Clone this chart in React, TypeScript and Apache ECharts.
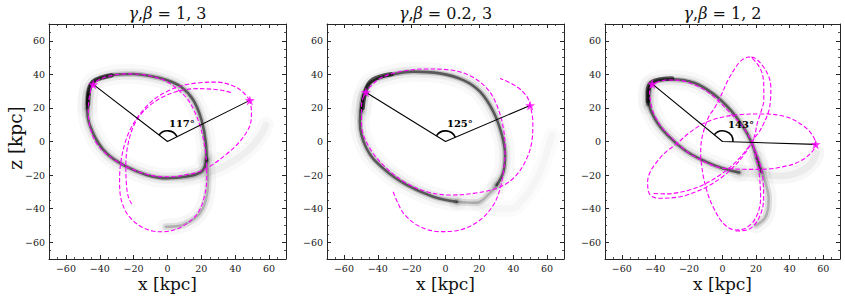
import React, { useEffect, useRef } from 'react';
import * as echarts from 'echarts';

// ---------- shared axis values ----------
const TICK_VALUES = [-60, -40, -20, 0, 20, 40, 60];
const AXIS_MIN = -70;
const AXIS_MAX = 70;
const MINOR_STEP = 5;
const ARC_RADIUS = 6.3;

// ---------- panel 1 : gamma,beta = 1, 3 ----------
const p1Title = ['1', '3'];
const p1Angle = '117°';
const p1AngleLabelAt = [8.5, 11];
const p1Stars = [[-43.9, 34], [48.6, 24.5]];
const p1OrbitLoop = [
  [48.6, 24.5], [44.5, 29.5], [38.9, 33.1], [29, 35.4], [19.1, 35], [9.3, 33.5], [0, 30], [-8, 25], [-15, 18],
  [-20.5, 10], [-24.5, 1], [-27.2, -10], [-28.3, -22], [-28, -31], [-25.5, -40], [-21.5, -46], [-16, -50.5],
  [-9, -53.3], [-3, -53.8], [5, -52.3], [12, -48.5], [18, -42.5], [21.5, -34], [23.2, -22], [22.8, -10],
  [21.3, 1], [19, 10], [15.5, 19], [11.3, 26], [6, 31], [0, 35.5], [-8, 38.5], [-16, 40], [-24, 40.3],
  [-32, 39.5], [-39, 37.5], [-43.9, 34], [-45.8, 28.7], [-46.8, 18.8], [-45.8, 8.8], [-41.9, -1.1], [-34, -9],
  [-22.2, -16], [-10.4, -20], [-0.6, -21], [7.3, -20.5], [21.1, -17], [34.9, -7.5], [44.3, 2], [49.3, 12],
  [49.6, 18], [48.6, 24.5],
];
const p1OrbitArc = [
  [37.5, 29.2], [32, 30.5], [27, 31.1], [17.2, 31.5], [7.3, 30.2], [-2.5, 26.7], [-10.4, 21.5], [-16.3, 15.5],
  [-20.2, 8.8], [-23.2, -1], [-24.6, -13], [-24.3, -25], [-23.2, -32.8], [-21.2, -37.2],
];
const p1StreamTop = [
  [-47.4, 20], [-46.8, 28.7], [-44.8, 34.6], [-39.9, 37.6], [-32, 39.6], [-20.2, 40.2], [-10.4, 39], [-0.6, 36.6],
  [8.3, 32.3], [15.2, 24.7], [20.1, 12.8], [22.7, -1.1], [23.1, -11],
];
const p1StreamLeft = [
  [-46.8, 28.7], [-47.4, 18.8], [-43.9, 4.9], [-36, -7], [-24.2, -15], [-12.4, -19.9], [-0.6, -21.9],
  [11.3, -20.9], [20.1, -17.9], [23.1, -11],
];
const p1StreamTail = [
  [23.1, -11], [24, -22.9], [22.7, -34.8], [19.1, -42.8], [13.2, -47.7], [5.4, -50.5], [-1, -50.8],
];
const p1StreamFaint = [[11.3, -20.9], [23, -19], [34.9, -14], [46.7, -6], [54.6, 2.9], [58.1, 9.8]];
const p1StreamCore = [[-47, 22], [-46.5, 30], [-44, 35.5], [-39, 38], [-33, 39.5]];

// ---------- panel 2 : gamma,beta = 0.2, 3 ----------
const p2Title = ['0.2', '3'];
const p2Angle = '125°';
const p2AngleLabelAt = [8.5, 10.5];
const p2Stars = [[-47.1, 29.3], [50, 21.5]];
const p2OrbitPath = [
  [-30.9, -29.9], [-28, -37], [-24, -43.8], [-15.1, -50.7], [-3.3, -53.7], [8.6, -52.7], [20.4, -46.8],
  [28.3, -37.8], [32.3, -28], [34.2, -18], [35.2, -6.1], [34.2, 7.9], [30.3, 21.7], [24.4, 31.7], [14.5, 39.2],
  [2.7, 42.6], [-11.1, 43.2], [-26.9, 41.6], [-38.8, 37.6], [-44, 33], [-47.1, 29.3], [-49.6, 21.7],
  [-49.6, 9.8], [-44.7, -4], [-34.8, -16], [-23, -24.9], [-11.1, -29.9], [2.7, -31.9], [16.5, -30.9],
  [30.3, -27.9], [40.1, -21.9], [47.1, -12], [51, -0.1], [51.6, 11.8], [50, 21.5], [48.1, 26.7], [42.2, 32.6],
  [32.3, 37.6],
];
const p2StreamTop = [
  [-49.5, 18], [-48.5, 27], [-45.5, 34], [-40, 37.5], [-32.9, 39.6], [-19.1, 41.6], [-3.3, 40.6], [10.5, 36.6],
  [20.4, 29.7], [28.3, 17.7], [33.3, 3.9], [35.2, -8], [34.2, -18], [30.3, -25.9],
];
const p2StreamLeft = [
  [-48.5, 27], [-50.6, 11.8], [-46.7, -4], [-36.8, -16], [-23, -25.9], [-7.2, -32.9], [6.6, -35.9],
];
const p2StreamTail = [[30.3, -25.9], [26, -31], [18, -36.5], [6.6, -35.9]];
const p2StreamFaint = [[18, -36.5], [28, -40], [38, -40], [47, -33], [55, -20], [60, -6], [63, 4]];
const p2StreamCore = [[-49, 20], [-47.5, 29], [-44.5, 35.5], [-39, 38.5], [-32, 40]];

// ---------- panel 3 : gamma,beta = 1, 2 ----------
const p3Title = ['1', '2'];
const p3Angle = '143°';
const p3AngleLabelAt = [11, 10];
const p3Stars = [[-41.9, 34.3], [55.5, -1.7]];
const p3OrbitA = [
  [-41, -31], [-35, -31.2], [-29, -30.9], [-20, -29], [-12, -26], [-3, -21], [5, -15], [11, -9], [15, -4],
  [17.6, -1], [19.5, 5], [20.7, 10.8], [23, 18], [24.6, 24.7], [24.6, 33], [23.6, 40.6], [20.5, 46.5],
  [15.7, 50.3], [11.5, 48.5], [8.8, 45.6], [3.5, 37], [-1.2, 26.7], [-5, 19.5], [-8.2, 14.8], [-11, 7],
  [-12.6, 0], [-13, -8], [-12.3, -15], [-11.2, -21.9], [-8.5, -32], [-5.2, -39.8], [-1, -47], [3, -51],
  [7.8, -52.7], [13.7, -51.7], [19.7, -45.7], [22.7, -33.8], [21.7, -18], [19.5, -8], [17.7, -1.1],
  [12.7, 7.9], [4.8, 16.8], [-5.2, 26.7], [-12, 31.5], [-19.1, 34.7], [-26, 36.5], [-33.2, 36.6], [-41.9, 34.3],
];
const p3OrbitB = [
  [-41.9, 34.3], [-43.5, 29], [-43, 24.7], [-41.5, 18], [-39, 12.8], [-35, 7], [-31, 2.9], [-22, -5.5],
  [-12, -11.5], [-2, -15.5], [8, -16.4], [18, -16.6], [27.6, -16.4], [36, -15], [43.6, -13], [51.5, -8],
  [55.5, -1.7], [53.5, 3.9], [47.6, 9.8], [37.6, 14.8], [23.7, 16.4], [7.8, 15.8], [-9.1, 11.8], [-20, 5],
  [-27, -1.1], [-34, -6.5], [-39, -12], [-43, -18], [-44.6, -23.9], [-44.2, -29.5], [-42, -32.8], [-37, -33.8],
  [-25.1, -32.9], [-16, -30], [-9.1, -26.9], [0, -21], [6.7, -15], [12, -9], [16, -3], [19, 2], [22, 6],
  [24.6, 10.8], [27.5, 18], [28.6, 24.7], [28.8, 32], [27.6, 38.6], [24, 45], [19.5, 49.5], [15.7, 50.5],
];
const p3OrbitC = [
  [7.8, -53.3], [15, -52.6], [21.5, -46], [24.5, -34], [23.8, -20], [21, -9], [17.7, -1.1],
];
const p3StreamTop = [
  [-44.5, 22], [-44.5, 28], [-43, 33.5], [-38, 36.5], [-31, 37], [-17, 35], [-5, 28], [5, 18.5], [12.5, 8.5],
  [17.5, -1], [20.5, -10], [23, -18],
];
const p3StreamLeft = [
  [-43, 33.5], [-44, 25], [-40, 13], [-32, 3], [-22, -5.5], [-10, -12], [0, -16], [10, -18.5],
];
const p3StreamTail = [[20.5, -10], [23.5, -18], [26, -26], [27.5, -34], [27, -41], [25, -46], [20, -50]];
const p3StreamFaint = [[10, -18.5], [22, -19.5], [35, -20.5], [45, -18.5], [52, -14], [56, -7]];
const p3StreamCore = [[-44.5, 24], [-44.5, 30], [-42.5, 35], [-37, 37], [-30, 37.5]];

const PANELS = [
  {
    title: p1Title, angle: p1Angle, labelAt: p1AngleLabelAt, stars: p1Stars,
    orbits: [p1OrbitLoop, p1OrbitArc],
    dense: [p1StreamTop, p1StreamLeft], tail: [p1StreamTail], faint: [p1StreamFaint], core: [p1StreamCore],
    faintAlpha: 1,
  },
  {
    title: p2Title, angle: p2Angle, labelAt: p2AngleLabelAt, stars: p2Stars,
    orbits: [p2OrbitPath],
    dense: [p2StreamTop, p2StreamLeft], tail: [p2StreamTail], faint: [p2StreamFaint], core: [p2StreamCore],
    faintAlpha: 0.55,
  },
  {
    title: p3Title, angle: p3Angle, labelAt: p3AngleLabelAt, stars: p3Stars,
    orbits: [p3OrbitA, p3OrbitB, p3OrbitC],
    dense: [p3StreamTop, p3StreamLeft], tail: [p3StreamTail], faint: [p3StreamFaint], core: [p3StreamCore],
    faintAlpha: 1.2,
  },
];

const GRIDS = [
  { left: 49, top: 24, width: 237, height: 235 },
  { left: 327, top: 24, width: 237, height: 235 },
  { left: 605, top: 24, width: 235, height: 235 },
];

const FONT = 'DejaVu Serif';
const AXIS_COLOR = '#262626';
const STAR_PATH =
  'path://M0,-10 L2.35,-3.24 L9.51,-3.09 L3.8,1.24 L5.88,8.09 L0,4 L-5.88,8.09 L-3.8,1.24 L-9.51,-3.09 L-2.35,-3.24 Z';

const fmt = (v: number) => (v < 0 ? '\u2212' + Math.abs(v) : String(v));

function axesFor(dim: 'x' | 'y', g: number) {
  const positions = dim === 'x' ? ['bottom', 'top'] : ['left', 'right'];
  const list: any[] = [];
  positions.forEach((p, k) => {
    list.push({
      gridIndex: g, type: 'value', min: AXIS_MIN, max: AXIS_MAX, position: p,
      axisLine: { show: true, onZero: false, lineStyle: { color: AXIS_COLOR, width: 1 } },
      axisTick: { show: true, inside: true, length: 4, customValues: TICK_VALUES, lineStyle: { color: AXIS_COLOR, width: 1 } },
      axisLabel: {
        show: k === 0, customValues: TICK_VALUES, formatter: fmt, fontFamily: FONT, fontSize: 9.5,
        color: '#1a1a1a', margin: 4,
      },
      splitLine: { show: false },
    });
    list.push({
      gridIndex: g, type: 'value', min: AXIS_MIN, max: AXIS_MAX, interval: MINOR_STEP, position: p,
      axisLine: { show: false, onZero: false },
      axisTick: { show: true, inside: true, length: 2, lineStyle: { color: AXIS_COLOR, width: 0.8 } },
      axisLabel: { show: false },
      splitLine: { show: false },
    });
  });
  return list;
}

function bandLayer(ai: number, data: number[][], width: number, alpha: number, z: number) {
  return {
    type: 'line', xAxisIndex: ai, yAxisIndex: ai, data, smooth: 0.4, symbol: 'none', showSymbol: false,
    silent: true, z, lineStyle: { color: `rgba(0,0,0,${alpha.toFixed(3)})`, width, cap: 'round', join: 'round' },
  };
}

export default function App() {
  const ref = useRef<HTMLDivElement>(null);
  useEffect(() => {
    if (!ref.current) return;
    const chart = echarts.init(ref.current, undefined, { renderer: 'svg' });
    const xAxis: any[] = [];
    const yAxis: any[] = [];
    GRIDS.forEach((_, g) => {
      xAxis.push(...axesFor('x', g));
      yAxis.push(...axesFor('y', g));
    });
    const series: any[] = [];
    const refSeries: number[] = [];
    PANELS.forEach((p, g) => {
      const ai = g * 4;
      const fa = p.faintAlpha;
      p.faint.forEach((d) => {
        series.push(bandLayer(ai, d, 16, 0.025 * fa, 1));
        series.push(bandLayer(ai, d, 7, 0.04 * fa, 1));
      });
      p.tail.forEach((d) => {
        series.push(bandLayer(ai, d, 16, 0.03, 1));
        series.push(bandLayer(ai, d, 7, 0.1, 1));
        series.push(bandLayer(ai, d, 2.5, 0.2, 1));
      });
      p.dense.forEach((d) => {
        series.push(bandLayer(ai, d, 20, 0.025, 2));
        series.push(bandLayer(ai, d, 11, 0.055, 2));
        series.push(bandLayer(ai, d, 5.5, 0.17, 2));
        series.push(bandLayer(ai, d, 2.6, 0.55, 2));
      });
      p.core.forEach((d) => {
        series.push(bandLayer(ai, d, 4.5, 0.6, 2));
      });
      p.orbits.forEach((d) => {
        series.push({
          type: 'line', xAxisIndex: ai, yAxisIndex: ai, data: d, smooth: 0.35, symbol: 'none', showSymbol: false,
          silent: true, z: 5, lineStyle: { color: '#ff00ff', width: 1.1, type: [4.5, 2.2] },
        });
      });
      refSeries[g] = series.length;
      series.push({
        type: 'line', xAxisIndex: ai, yAxisIndex: ai, data: [p.stars[0], [0, 0], p.stars[1]], symbol: 'none',
        showSymbol: false, silent: true, z: 6, lineStyle: { color: '#000', width: 1.1 },
      });
      series.push({
        type: 'scatter', xAxisIndex: ai, yAxisIndex: ai, data: p.stars, symbol: STAR_PATH, symbolSize: 10,
        silent: true, z: 8, itemStyle: { color: '#ff00ff' },
      });
    });

    chart.setOption({
      animation: false,
      backgroundColor: '#ffffff',
      grid: GRIDS,
      xAxis,
      yAxis,
      series,
    });

    const graphic: any[] = [];
    PANELS.forEach((p, g) => {
      const finder = { seriesIndex: refSeries[g] };
      const o = chart.convertToPixel(finder, [0, 0]) as number[];
      const rp = chart.convertToPixel(finder, [ARC_RADIUS, 0]) as number[];
      const r = rp[0] - o[0];
      const a1 = Math.atan2(p.stars[0][1], p.stars[0][0]);
      const a2 = Math.atan2(p.stars[1][1], p.stars[1][0]);
      graphic.push({
        type: 'arc', z: 20,
        shape: { cx: o[0], cy: o[1], r, startAngle: -a1, endAngle: -a2, clockwise: true },
        style: { stroke: '#000', lineWidth: 1.6, fill: 'none' },
      });
      const lp = chart.convertToPixel(finder, p.labelAt) as number[];
      graphic.push({
        type: 'text', x: lp[0], y: lp[1], z: 21,
        style: {
          text: p.angle, font: `bold 10px "${FONT}"`, fill: '#000', textAlign: 'center', textVerticalAlign: 'middle',
        },
      });
      const gr = GRIDS[g];
      const cx = gr.left + gr.width / 2;
      graphic.push({
        type: 'text', x: cx, y: 13, z: 21,
        style: {
          text: `{g|γ}{n|,}{g|β}{n| = ${p.title[0]}, ${p.title[1]}}`,
          textAlign: 'center', textVerticalAlign: 'middle', fill: '#111',
          font: `16px "${FONT}"`,
          rich: {
            g: { fontFamily: FONT, fontSize: 16, fontStyle: 'italic', fill: '#111' },
            n: { fontFamily: FONT, fontSize: 16, fill: '#111' },
          },
        },
      });
      graphic.push({
        type: 'text', x: cx, y: 284, z: 21,
        style: { text: 'x [kpc]', font: `17px "${FONT}"`, fill: '#111', textAlign: 'center', textVerticalAlign: 'middle' },
      });
    });
    graphic.push({
      type: 'text', x: 15, y: 138, rotation: Math.PI / 2, z: 21,
      style: { text: 'z [kpc]', font: `18.5px "${FONT}"`, fill: '#111', textAlign: 'center', textVerticalAlign: 'middle' },
    });
    chart.setOption({ graphic });

    return () => chart.dispose();
  }, []);
  return <div ref={ref} style={{ position: 'fixed', left: 0, top: 0, width: 845, height: 298 }} />;
}
